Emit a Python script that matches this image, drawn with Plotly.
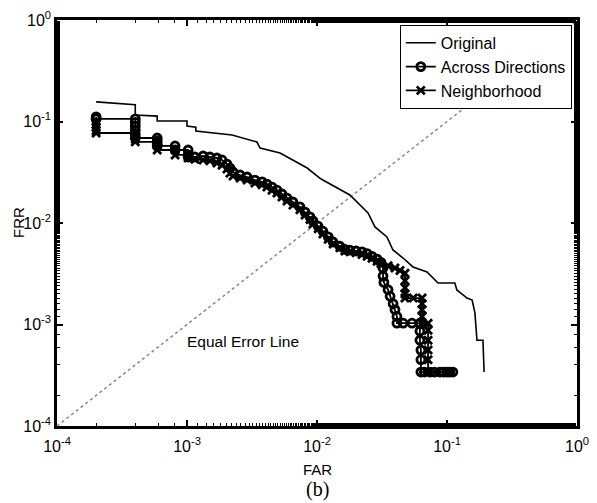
import plotly.graph_objects as go

# ---- data ----
orig_far = [2.0e-4, 4.0e-4, 4.0e-4, 5.9e-4, 5.9e-4, 1.0e-3, 1.0e-3, 1.17e-3, 1.17e-3,
            2.22e-3, 3.45e-3, 3.65e-3, 5.2e-3, 8.4e-3, 1.05e-2, 1.11e-2, 1.79e-2, 2.47e-2, 2.79e-2,
            3.45e-2, 3.84e-2, 4.59e-2, 5.48e-2, 7.02e-2, 8.53e-2, 0.115, 0.119, 0.1426, 0.156,
            0.164, 0.170, 0.189, 0.193]
orig_frr = [0.156, 0.146, 0.116, 0.113, 0.101, 0.101, 0.090, 0.088, 0.0806,
            0.0736, 0.0628, 0.0548, 0.049, 0.0348, 0.0277, 0.0265, 0.0189, 0.01255, 0.00914,
            0.00728, 0.00542, 0.00452, 0.00369, 0.00329, 0.00256, 0.00256, 0.00219, 0.00182, 0.00174,
            0.0013, 7.0e-4, 7.0e-4, 3.4e-4]

across_far = [2.0e-4, 2.0e-4, 4.0e-4, 4.0e-4, 4.0e-4, 4.0e-4, 4.0e-4, 4.0e-4, 5.9e-4, 5.9e-4,
              5.9e-4, 5.9e-4, 8.1e-4, 8.1e-4, 1.02e-3, 1.02e-3, 1.02e-3,
              1.15e-3, 1.33e-3, 1.50e-3, 1.70e-3, 1.86e-3, 2.03e-3, 2.14e-3, 2.26e-3, 2.56e-3, 2.90e-3,
              3.33e-3, 3.78e-3, 4.12e-3, 4.51e-3, 4.92e-3, 5.38e-3, 5.88e-3, 6.53e-3, 7.39e-3, 8.09e-3,
              8.83e-3, 9.31e-3, 1.02e-2, 1.11e-2, 1.22e-2, 1.33e-2, 1.50e-2, 1.64e-2, 1.79e-2, 2.00e-2,
              2.22e-2, 2.43e-2, 2.65e-2, 2.90e-2, 3.10e-2, 3.22e-2, 3.22e-2, 3.27e-2, 3.52e-2, 3.65e-2,
              3.85e-2, 3.98e-2, 4.12e-2, 4.12e-2, 4.6e-2, 5.38e-2, 6.19e-2, 6.19e-2, 6.19e-2, 6.3e-2,
              6.3e-2, 6.3e-2, 6.7e-2, 7.4e-2, 8.0e-2, 8.83e-2, 9.4e-2, 0.100, 0.105, 0.111]
across_frr = [0.111, 0.106, 0.106, 0.098, 0.090, 0.082, 0.0745, 0.0688, 0.0688, 0.064,
              0.060, 0.0574, 0.0574, 0.0524, 0.0524, 0.0468, 0.0447,
              0.0447, 0.0457, 0.0447, 0.0437, 0.0418, 0.0381, 0.0348, 0.0318, 0.0297, 0.0284,
              0.0265, 0.0254, 0.0242, 0.0226, 0.0211, 0.0193, 0.0176, 0.0161, 0.0144, 0.0128,
              0.0115, 0.0105, 0.0093, 0.0083, 0.0073, 0.0065, 0.0059, 0.0055, 0.0054, 0.0053,
              0.0052, 0.0050, 0.0047, 0.0044, 0.0041, 0.0036, 0.0030, 0.0026, 0.0022, 0.0019,
              0.0016, 0.0014, 0.0012, 0.00103, 0.00103, 0.00103, 0.00103, 8.6e-4, 7.0e-4, 5.6e-4,
              4.5e-4, 3.4e-4, 3.4e-4, 3.4e-4, 3.4e-4, 3.4e-4, 3.4e-4, 3.4e-4, 3.4e-4, 3.4e-4]

neigh_far = [2.0e-4, 2.0e-4, 2.0e-4, 2.0e-4, 2.0e-4, 4.0e-4, 4.0e-4, 4.0e-4, 4.0e-4, 5.9e-4,
             5.9e-4, 5.9e-4, 8.1e-4, 8.1e-4, 1.02e-3, 1.02e-3,
             1.15e-3, 1.33e-3, 1.50e-3, 1.70e-3, 1.86e-3, 2.03e-3, 2.14e-3, 2.26e-3, 2.56e-3, 2.90e-3,
             3.33e-3, 3.78e-3, 4.12e-3, 4.51e-3, 4.92e-3, 5.38e-3, 5.88e-3, 6.53e-3, 7.39e-3, 8.09e-3,
             8.83e-3, 9.31e-3, 1.02e-2, 1.11e-2, 1.22e-2, 1.33e-2, 1.50e-2, 1.64e-2, 1.79e-2, 2.00e-2,
             2.22e-2, 2.43e-2, 2.65e-2, 2.90e-2, 3.10e-2, 3.52e-2, 3.98e-2, 4.35e-2, 4.75e-2, 4.75e-2,
             4.75e-2, 4.75e-2, 4.75e-2, 5.5e-2, 6.43e-2, 6.43e-2, 6.43e-2, 6.43e-2, 6.43e-2, 7.15e-2,
             7.15e-2, 7.15e-2, 7.15e-2, 7.15e-2, 7.15e-2]
neigh_frr = [0.101, 0.094, 0.087, 0.081, 0.077, 0.077, 0.072, 0.067, 0.063, 0.063,
             0.058, 0.0524, 0.0524, 0.0468, 0.0468, 0.0437,
             0.0425, 0.0418, 0.041, 0.039, 0.037, 0.034, 0.031, 0.029, 0.0278, 0.0265,
             0.0248, 0.0238, 0.0226, 0.021, 0.0197, 0.018, 0.0165, 0.015, 0.0135, 0.012,
             0.0108, 0.0098, 0.0088, 0.0078, 0.0069, 0.0062, 0.0057, 0.0053, 0.0052, 0.0051,
             0.0049, 0.0047, 0.0045, 0.0042, 0.0040, 0.0038, 0.0036, 0.0034, 0.0032, 0.0027,
             0.0023, 0.0020, 0.00182, 0.00182, 0.00182, 0.0016, 0.0014, 0.0012, 0.00103, 0.00103,
             8.8e-4, 7.0e-4, 5.6e-4, 4.5e-4, 3.4e-4]

eer_line = [1e-4, 1.0]
tick_vals = [1e-4, 1e-3, 1e-2, 1e-1, 1.0]
tick_text = ["10<sup>-4</sup>", "10<sup>-3</sup>", "10<sup>-2</sup>", "10<sup>-1</sup>", "10<sup>0</sup>"]

FONT = "Liberation Sans, Arial, sans-serif"

fig = go.Figure()
fig.add_trace(go.Scatter(x=eer_line, y=eer_line, mode="lines",
                         line=dict(color="#888888", width=1.5, dash="dot"),
                         showlegend=False, hoverinfo="skip"))
fig.add_trace(go.Scatter(x=orig_far, y=orig_frr, mode="lines", name="Original",
                         line=dict(color="black", width=1.6)))
fig.add_trace(go.Scatter(x=across_far, y=across_frr, mode="lines+markers", name="Across Directions",
                         line=dict(color="black", width=1.8),
                         marker=dict(symbol="circle-open", size=8, color="black", line=dict(width=2.8))))
fig.add_trace(go.Scatter(x=neigh_far, y=neigh_frr, mode="lines+markers", name="Neighborhood",
                         line=dict(color="black", width=1.8),
                         marker=dict(symbol="x-thin-open", size=8, color="black", line=dict(width=2.8))))

axis_common = dict(
    type="log", tickvals=tick_vals, ticktext=tick_text,
    ticks="inside", ticklen=6, tickwidth=1.5, tickcolor="black",
    showline=True, linecolor="black", linewidth=2.5, mirror="allticks",
    showgrid=False, zeroline=False, automargin=False,
    tickfont=dict(family=FONT, size=16, color="black"),
    minor=dict(ticks="inside", ticklen=3, tickwidth=1.2, tickcolor="black", showgrid=False),
)
fig.update_xaxes(range=[-4, 0], ticklabelstandoff=4, **axis_common)
fig.update_yaxes(range=[-4, 0], **axis_common)

# the page body adds an 8px offset, margins compensate for it
fig.update_layout(
    width=597, height=503,
    margin=dict(l=49, r=28, t=12, b=85, autoexpand=False),
    paper_bgcolor="white", plot_bgcolor="white",
    font=dict(family=FONT, size=15, color="black"),
    legend=dict(x=0.99, y=0.988, xanchor="right", yanchor="top",
                bgcolor="white", bordercolor="black", borderwidth=1,
                font=dict(family=FONT, size=16), tracegroupgap=0, itemwidth=30),
    annotations=[
        dict(text="Equal Error Line", x=-2.569, y=-3.163, xref="x", yref="y",
             xanchor="center", yanchor="middle",
             showarrow=False, font=dict(family=FONT, size=15.5)),
        dict(text="FAR", x=0.5, y=-0.107, xref="paper", yref="paper", showarrow=False,
             xanchor="center", yanchor="middle", font=dict(family=FONT, size=15)),
        dict(text="FRR", x=-0.075, y=0.5, xref="paper", yref="paper", showarrow=False,
             xanchor="center", yanchor="middle", textangle=-90, font=dict(family=FONT, size=15)),
        dict(text="(b)", x=0.5, y=-0.157, xref="paper", yref="paper", showarrow=False,
             xanchor="center", yanchor="middle",
             font=dict(family="Liberation Serif, Times New Roman, serif", size=20)),
    ],
)

fig.write_html("out.html")
